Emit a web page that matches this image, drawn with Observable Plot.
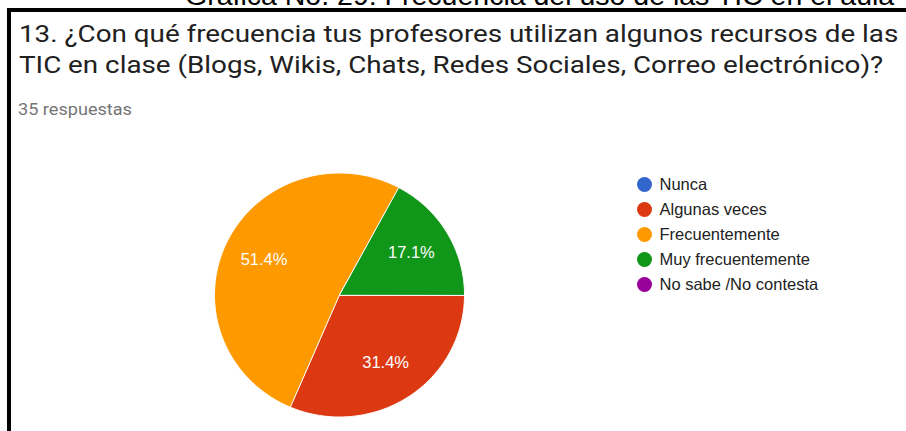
<!DOCTYPE html>
<html>
<head>
<meta charset="utf-8">
<script src="https://cdn.jsdelivr.net/npm/d3@7"></script>
<script src="https://cdn.jsdelivr.net/npm/@observablehq/plot@0.6"></script>
<style>
  html, body { margin: 0; padding: 0; background: #fff; overflow: hidden; }
  body { width: 906px; height: 431px; position: relative; }
  #capsvg { position: absolute; left: 0; top: 0; overflow: hidden; }
  #frame { position: absolute; left: 7px; top: 8px; width: 899px; height: 423px; border-top: 4px solid #000; border-left: 4px solid #000; box-sizing: border-box; }
  #title { position: absolute; left: 19px; top: 19px; font-family: Roboto, sans-serif; font-size: 24px; line-height: 31px; color: #212121; white-space: nowrap; transform: scaleX(1.158); transform-origin: 0 0; }
  #sub { position: absolute; left: 18px; top: 100px; font-family: Roboto, sans-serif; font-size: 17px; line-height: 18px; color: #757575; white-space: nowrap; transform: scaleX(1.065); transform-origin: 0 0; }
  #pie { position: absolute; left: 0px; top: 130px; }
  #legend { position: absolute; left: 620px; top: 160px; }
</style>
</head>
<body>
<svg id="capsvg" width="906" height="8"><text x="185" y="5" font-family="Liberation Sans, Arial, sans-serif" font-size="28.5" fill="#000">Gráfica No. 29: Frecuencia del uso de las TIC en el aula</text></svg>
<div id="frame"></div>
<div id="title">13. ¿Con qué frecuencia tus profesores utilizan algunos recursos de las<br>TIC en clase (Blogs, Wikis, Chats, Redes Sociales, Correo electrónico)?</div>
<div id="sub">35 respuestas</div>
<div id="pie"></div>
<div id="legend"></div>
<script>
const categories = ["Nunca", "Algunas veces", "Frecuentemente", "Muy frecuentemente", "No sabe /No contesta"];
const counts = [0, 11, 18, 6, 0];
const colors = ["#3366cc", "#dc3912", "#ff9900", "#109618", "#990099"];

const total = d3.sum(counts);
const rows = categories.map((c, i) => ({category: c, value: counts[i]}));

// pie geometry: start at 3 o'clock, clockwise
const arcs = d3.pie().value(d => d.value).sort(null)
  .startAngle(Math.PI / 2).endAngle(Math.PI / 2 + 2 * Math.PI)(rows);

const outline = [];
const labels = [];
for (const a of arcs) {
  if (a.data.value <= 0) continue;
  const steps = Math.max(2, Math.ceil((a.endAngle - a.startAngle) / (2 * Math.PI) * 360));
  outline.push({category: a.data.category, x: 0, y: 0});
  for (let k = 0; k <= steps; k++) {
    const t = a.startAngle + (a.endAngle - a.startAngle) * k / steps;
    outline.push({category: a.data.category, x: Math.sin(t), y: Math.cos(t)});
  }
  const m = (a.startAngle + a.endAngle) / 2;
  labels.push({x: 0.67 * Math.sin(m), y: 0.67 * Math.cos(m), text: (a.data.value / total * 100).toFixed(1) + "%"});
}

// layout (pixels)
const W = 600, H = 301, cx = 339, cy = 164.5, rx = 125, ry = 122;

const pie = Plot.plot({
  width: W, height: H,
  margin: 0,
  x: {domain: [-cx / rx, (W - cx) / rx], range: [0, W], axis: null},
  y: {domain: [-(H - cy) / ry, cy / ry], range: [H, 0], axis: null},
  color: {domain: categories, range: colors},
  style: {background: "transparent"},
  marks: [
    Plot.line(outline, {x: "x", y: "y", z: "category", fill: "category", stroke: "#fff", strokeWidth: 1, curve: "linear-closed"}),
    Plot.text(labels, {x: "x", y: "y", text: "text", fill: "#fff", fontSize: 16.5, fontFamily: "Liberation Sans, Arial, sans-serif"})
  ]
});
document.getElementById("pie").appendChild(pie);

const legend = Plot.plot({
  width: 280, height: 140,
  margin: 0,
  x: {domain: [0, 1], range: [24, 280], axis: null},
  y: {type: "point", domain: categories, range: [24, 124], padding: 0, axis: null},
  color: {domain: categories, range: colors},
  style: {background: "transparent"},
  marks: [
    Plot.dot(rows, {x: () => 0, y: "category", fill: "category", r: 7.5}),
    Plot.text(rows, {x: () => 0, y: "category", text: "category", dx: 15, textAnchor: "start", fill: "#222", fontSize: 16.5, fontFamily: "Liberation Sans, Arial, sans-serif"})
  ]
});
document.getElementById("legend").appendChild(legend);
</script>
</body>
</html>
